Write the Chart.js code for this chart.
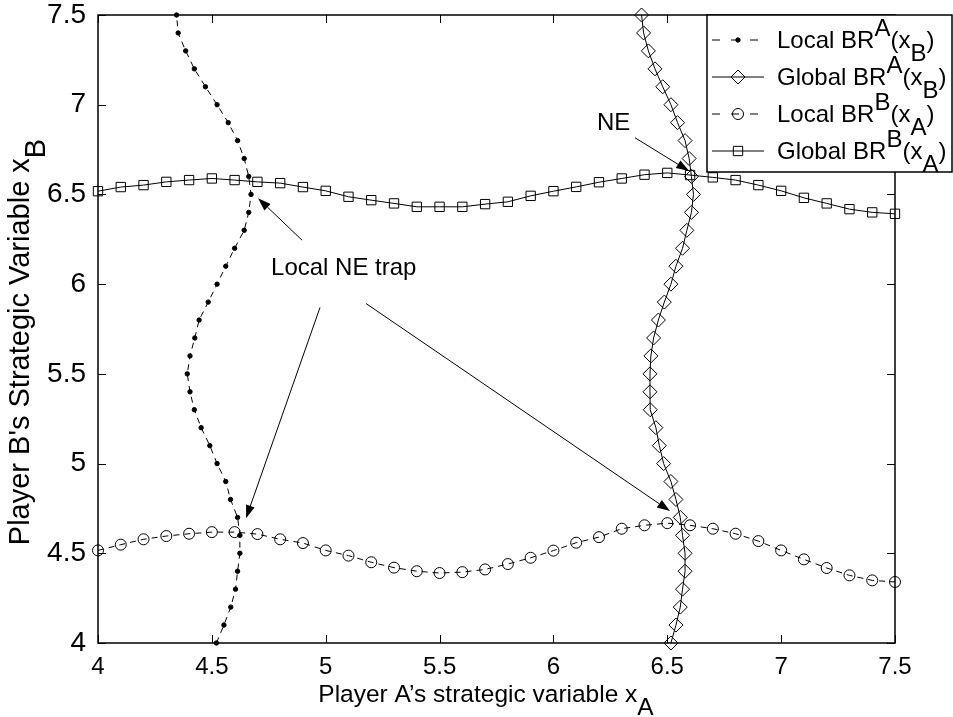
<!DOCTYPE html>
<html>
<head>
<meta charset="utf-8">
<script src="https://cdn.jsdelivr.net/npm/chart.js@4.4.0/dist/chart.umd.min.js"></script>
<style>
  html, body { margin: 0; padding: 0; background: #fff; }
  #wrap { width: 953px; height: 717px; }
</style>
</head>
<body>
<div id="wrap"><canvas id="grafico" width="953" height="717"></canvas></div>
<script>
// grid of the strategic variables (0.1 steps)
const gridX = [4.0, 4.1, 4.2, 4.3, 4.4, 4.5, 4.6, 4.7, 4.8, 4.9, 5.0, 5.1, 5.2, 5.3, 5.4, 5.5, 5.6, 5.7,
  5.8, 5.9, 6.0, 6.1, 6.2, 6.3, 6.4, 6.5, 6.6, 6.7, 6.8, 6.9, 7.0, 7.1, 7.2, 7.3, 7.4, 7.5];
const gridY = gridX.slice();

// best responses of A as functions of x_B
const localBRA = [4.520, 4.553, 4.583, 4.604, 4.613, 4.623, 4.623, 4.613, 4.582, 4.561, 4.523, 4.491,
  4.453, 4.423, 4.404, 4.392, 4.404, 4.425, 4.444, 4.484, 4.523, 4.561, 4.600, 4.642, 4.662, 4.672,
  4.662, 4.642, 4.613, 4.572, 4.523, 4.472, 4.423, 4.385, 4.352, 4.345];
const globalBRA = [6.516, 6.538, 6.557, 6.567, 6.578, 6.578, 6.567, 6.557, 6.538, 6.516, 6.484, 6.465,
  6.450, 6.425, 6.424, 6.424, 6.428, 6.440, 6.461, 6.487, 6.516, 6.538, 6.567, 6.586, 6.606, 6.615,
  6.606, 6.596, 6.578, 6.545, 6.516, 6.480, 6.446, 6.417, 6.396, 6.387];

// best responses of B as functions of x_A
const localBRB = [4.516, 4.548, 4.578, 4.596, 4.609, 4.618, 4.618, 4.607, 4.578, 4.557, 4.516, 4.487,
  4.450, 4.420, 4.400, 4.390, 4.395, 4.410, 4.440, 4.475, 4.515, 4.559, 4.590, 4.637, 4.656, 4.668,
  4.656, 4.637, 4.609, 4.568, 4.516, 4.466, 4.418, 4.377, 4.349, 4.340];
const globalBRB = [6.518, 6.541, 6.552, 6.570, 6.580, 6.589, 6.580, 6.570, 6.563, 6.541, 6.520, 6.487,
  6.468, 6.450, 6.431, 6.431, 6.431, 6.446, 6.459, 6.492, 6.518, 6.542, 6.568, 6.589, 6.610, 6.620,
  6.608, 6.595, 6.580, 6.552, 6.520, 6.481, 6.450, 6.418, 6.400, 6.392];

const ticksX = [4, 4.5, 5, 5.5, 6, 6.5, 7, 7.5];
const ticksY = [4, 4.5, 5, 5.5, 6, 6.5, 7, 7.5];

// legend text pieces: [text, shift] shift -1 = superscript, 1 = subscript
const legendLabels = [
  [["Local BR", 0], ["A", -1], ["(x", 0], ["B", 1], [")", 0]],
  [["Global BR", 0], ["A", -1], ["(x", 0], ["B", 1], [")", 0]],
  [["Local BR", 0], ["B", -1], ["(x", 0], ["A", 1], [")", 0]],
  [["Global BR", 0], ["B", -1], ["(x", 0], ["A", 1], [")", 0]]
];
const tituloX = [["Player A\u2019s strategic variable x", 0], ["A", 1]];
const tituloY = [["Player B's Strategic Variable x", 0], ["B", 1]];

// annotations in data coordinates
const textos = [
  { t: "NE", x: 6.191, y: 6.86 },
  { t: "Local NE trap", x: 4.76, y: 6.05 }
];
const setas = [
  { x0: 6.358, y0: 6.816, x1: 6.596, y1: 6.63 },
  { x0: 4.896, y0: 6.245, x1: 4.703, y1: 6.479 },
  { x0: 4.975, y0: 5.870, x1: 4.650, y1: 4.695 },
  { x0: 5.177, y0: 5.892, x1: 6.512, y1: 4.735 }
];

const FONTE = "'Liberation Sans', Arial, sans-serif";

function pontos(xs, ys) {
  return xs.map(function (v, i) { return { x: v, y: ys[i] }; });
}

function textoRico(ctx, partes, x, y, tam) {
  let cx = x;
  partes.forEach(function (p) {
    ctx.font = tam + "px " + FONTE;
    let dy = 0;
    if (p[1] < 0) dy = -tam * 0.5;
    if (p[1] > 0) dy = tam * 0.55;
    ctx.fillText(p[0], cx, y + dy);
    cx += ctx.measureText(p[0]).width;
  });
  return cx - x;
}

function larguraRica(ctx, partes, tam) {
  ctx.font = tam + "px " + FONTE;
  let w = 0;
  partes.forEach(function (p) { w += ctx.measureText(p[0]).width; });
  return w;
}

const estilos = [
  { dash: [6, 5], style: "circle", r: 2.2, fill: "#000" },
  { dash: [], style: "rectRot", r: 7, fill: "rgba(0,0,0,0)" },
  { dash: [6, 5], style: "circle", r: 5.5, fill: "rgba(0,0,0,0)" },
  { dash: [], style: "rect", r: 6.6, fill: "rgba(0,0,0,0)" }
];

// no extra room for the tick labels: the plot box stays where the padding puts it
function semMargem(s) {
  s.paddingTop = 0;
  s.paddingBottom = 0;
  s.paddingLeft = 0;
  s.paddingRight = 0;
}

const molduraPlugin = {
  id: "moldura",
  afterDatasetsDraw(chart) {
    const ctx = chart.ctx;
    const a = chart.chartArea;
    const sx = chart.scales.x;
    const sy = chart.scales.y;
    ctx.save();
    ctx.strokeStyle = "#000";
    ctx.lineWidth = 1.5;
    ctx.strokeRect(a.left, a.top, a.right - a.left, a.bottom - a.top);

    // inward ticks on every side
    ctx.lineWidth = 1;
    ctx.beginPath();
    ticksX.forEach(function (v) {
      const px = Math.round(sx.getPixelForValue(v)) + 0.5;
      ctx.moveTo(px, a.bottom); ctx.lineTo(px, a.bottom - 8);
      ctx.moveTo(px, a.top); ctx.lineTo(px, a.top + 8);
    });
    ticksY.forEach(function (v) {
      const py = Math.round(sy.getPixelForValue(v)) + 0.5;
      ctx.moveTo(a.left, py); ctx.lineTo(a.left + 8, py);
      ctx.moveTo(a.right, py); ctx.lineTo(a.right - 8, py);
    });
    ctx.stroke();

    // arrows
    ctx.fillStyle = "#000";
    setas.forEach(function (s) {
      const x0 = sx.getPixelForValue(s.x0), y0 = sy.getPixelForValue(s.y0);
      const x1 = sx.getPixelForValue(s.x1), y1 = sy.getPixelForValue(s.y1);
      const ang = Math.atan2(y1 - y0, x1 - x0);
      const L = 13, W = 4.5;
      const bx = x1 - L * Math.cos(ang), by = y1 - L * Math.sin(ang);
      ctx.beginPath();
      ctx.moveTo(x0, y0); ctx.lineTo(bx, by);
      ctx.stroke();
      ctx.beginPath();
      ctx.moveTo(x1, y1);
      ctx.lineTo(bx + W * Math.sin(ang), by - W * Math.cos(ang));
      ctx.lineTo(bx - W * Math.sin(ang), by + W * Math.cos(ang));
      ctx.closePath();
      ctx.fill();
    });

    // annotation text
    ctx.textBaseline = "alphabetic";
    ctx.textAlign = "left";
    ctx.font = "24px " + FONTE;
    textos.forEach(function (t) {
      ctx.fillText(t.t, sx.getPixelForValue(t.x), sy.getPixelForValue(t.y));
    });

    // axis titles
    const wx = larguraRica(ctx, tituloX, 24.5);
    textoRico(ctx, tituloX, 486 - wx / 2, 702, 24.5);
    ctx.save();
    ctx.translate(29, 342);
    ctx.rotate(-Math.PI / 2);
    const wy = larguraRica(ctx, tituloY, 29);
    textoRico(ctx, tituloY, -wy / 2, 0, 29);
    ctx.restore();

    // legend box
    const lx = 707, ly = a.top, lw = 245, lh = 157;
    ctx.fillStyle = "#fff";
    ctx.fillRect(lx, ly, lw, lh);
    ctx.lineWidth = 1.5;
    ctx.strokeRect(lx, ly, lw, lh);
    chart.data.datasets.forEach(function (ds, i) {
      const st = estilos[i];
      const yy = ly + 25 + i * 37;
      ctx.lineWidth = 1;
      ctx.setLineDash(st.dash.length ? [8, 11] : []);
      ctx.beginPath();
      ctx.moveTo(712, yy); ctx.lineTo(764, yy);
      ctx.stroke();
      ctx.setLineDash([]);
      ctx.fillStyle = st.fill;
      Chart.helpers.drawPoint(ctx, {
        pointStyle: st.style, radius: st.r, borderWidth: 1, rotation: 0
      }, 738, yy);
      ctx.fillStyle = "#000";
      textoRico(ctx, legendLabels[i], 777, yy + 8, 24);
    });
    ctx.restore();
  }
};

const baseSet = function (label, xs, ys, i) {
  const st = estilos[i];
  return {
    label: label,
    data: pontos(xs, ys),
    showLine: true,
    borderColor: "#000",
    borderWidth: 1,
    borderDash: st.dash,
    pointStyle: st.style,
    pointRadius: st.r,
    pointBorderWidth: 1,
    pointBorderColor: "#000",
    pointBackgroundColor: st.fill,
    tension: 0,
    clip: false
  };
};

const config = {
  type: "scatter",
  data: {
    datasets: [
      baseSet("Local BR^A(x_B)", localBRA, gridY, 0),
      baseSet("Global BR^A(x_B)", globalBRA, gridY, 1),
      baseSet("Local BR^B(x_A)", gridX, localBRB, 2),
      baseSet("Global BR^B(x_A)", gridX, globalBRB, 3)
    ]
  },
  options: {
    responsive: false,
    animation: false,
    devicePixelRatio: 1,
    events: [],
    layout: { padding: { top: 15, right: 58, left: 0, bottom: 0 } },
    plugins: {
      legend: { display: false },
      tooltip: { enabled: false }
    },
    scales: {
      x: {
        type: "linear",
        min: 4, max: 7.5,
        grid: { display: false, drawTicks: false },
        border: { display: false },
        afterBuildTicks: function (s) { s.ticks = ticksX.map(function (v) { return { value: v }; }); },
        afterFit: function (s) { s.height = 74; semMargem(s); },
        ticks: {
          color: "#000",
          padding: 10,
          font: { family: FONTE, size: 24 },
          callback: function (v) { return String(v); }
        }
      },
      y: {
        type: "linear",
        min: 4, max: 7.5,
        grid: { display: false, drawTicks: false },
        border: { display: false },
        afterBuildTicks: function (s) { s.ticks = ticksY.map(function (v) { return { value: v }; }); },
        afterFit: function (s) { s.width = 98; semMargem(s); },
        ticks: {
          color: "#000",
          padding: 12,
          font: { family: FONTE, size: 28 },
          callback: function (v) { return String(v); }
        }
      }
    }
  },
  plugins: [molduraPlugin]
};

const canvas = document.getElementById("grafico");
new Chart(canvas, config);
</script>
</body>
</html>
